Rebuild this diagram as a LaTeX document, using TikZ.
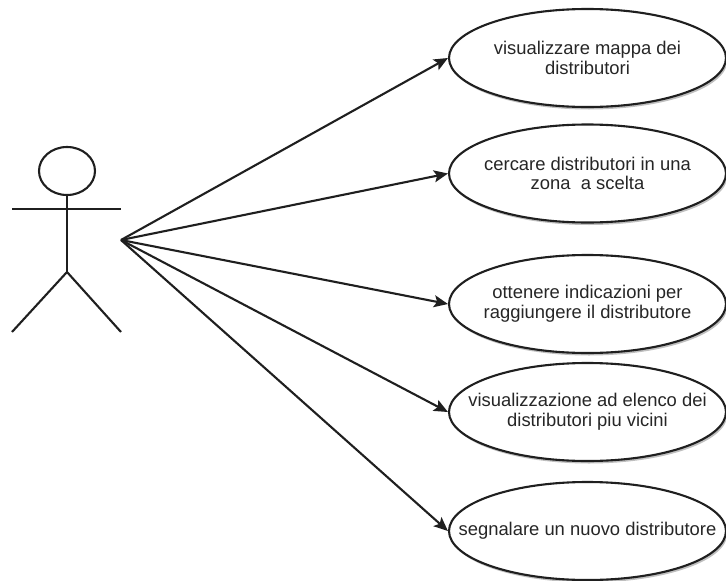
\documentclass[tikz,border=0pt]{standalone}
\usepackage{fontspec}
\setmainfont{Liberation Sans}
\usetikzlibrary{arrows.meta,shapes.geometric,shadows}
\tikzset{
  line/.style={line width=2.1pt,draw=black!88},
  usecase/.style={ellipse,line,fill=white,minimum width=277pt,minimum height=98pt,inner xsep=-40pt,inner ysep=0pt,align=center,
    font=\fontsize{18.4}{19.7}\selectfont,text=black!85,
    drop shadow={shadow xshift=1.5pt,shadow yshift=-2.5pt,fill=black,opacity=0.25}},
  assoc/.style={line,-{Stealth[length=14pt,width=12pt,inset=3pt]},shorten >=0pt},
}
\begin{document}
\begin{tikzpicture}[x=1pt,y=-1pt]
\useasboundingbox (0,0) rectangle (726,581);
\fill[white] (0,0) rectangle (726,581);
% actor
\node[ellipse,line,minimum width=56pt,minimum height=48pt,inner sep=0pt] (head) at (67,171) {};
\coordinate (hip) at (67,272);
\coordinate (neck) at (67,209);
\coordinate (handL) at (12,209);
\coordinate (handR) at (121,209);
\coordinate (footL) at (12,332);
\coordinate (footR) at (121,332);
\coordinate (src) at (121,240);
\draw[line] (head.south) -- (hip);
\draw[line] (handL) -- (handR);
\draw[line] (footL) -- (hip) -- (footR);
% use cases
\node[usecase] (e1) at (587.5,58) {visualizzare mappa dei\\distributori};
\node[usecase] (e2) at (587.5,173.5) {cercare distributori in una\\zona\ \ a scelta};
\node[usecase] (e3) at (587.5,304) {ottenere indicazioni per\\raggiungere il distributore};
\node[usecase] (e4) at (587.5,412) {visualizzazione ad elenco dei\\distributori piu vicini};
\node[usecase] (e5) at (587.5,531) {segnalare un nuovo distributore};
% associations
\draw[assoc] (src) -- (e1.west);
\draw[assoc] (src) -- (e2.west);
\draw[assoc] (src) -- (e3.west);
\draw[assoc] (src) -- (e4.west);
\draw[assoc] (src) -- (e5.west);
\end{tikzpicture}
\end{document}
